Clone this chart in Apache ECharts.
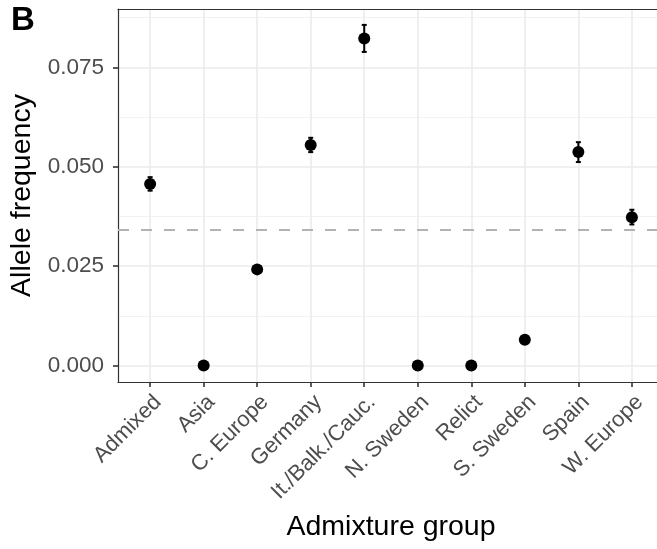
<!DOCTYPE html>
<html>
<head>
<meta charset="utf-8">
<script src="https://cdn.jsdelivr.net/npm/echarts@6/dist/echarts.min.js"></script>
<style>
  html, body { margin: 0; padding: 0; background: #fff; }
  #chart { width: 657px; height: 549px; }
</style>
</head>
<body>
<div id="chart"></div>
<script>
const groups = ['Admixed', 'Asia', 'C. Europe', 'Germany', 'It./Balk./Cauc.', 'N. Sweden', 'Relict', 'S. Sweden', 'Spain', 'W. Europe'];
const freq = [0.0457, 0, 0.0242, 0.0555, 0.0823, 0, 0, 0.0065, 0.0537, 0.0373];
const lower = [0.0440, 0, 0.0242, 0.0537, 0.0789, 0, 0, 0.0065, 0.0512, 0.0355];
const upper = [0.0474, 0, 0.0242, 0.0573, 0.0857, 0, 0, 0.0065, 0.0562, 0.0392];
const meanFreq = 0.0342;
const yTicks = [0, 0.025, 0.05, 0.075];
const yMinor = [0.0125, 0.0375, 0.0625, 0.0875];

const chart = echarts.init(document.getElementById('chart'));
const font = 'Liberation Sans, Arial, sans-serif';
const idx = groups.map((g, i) => i);
const xMin = -0.6, xMax = 9.6;
const yMin = -0.00413, yMax = 0.0897;
const border = { show: true, onZero: false, lineStyle: { color: '#333', width: 1.2 } };

const option = {
  backgroundColor: '#fff',
  animation: false,
  graphic: [{
    type: 'text', left: 11, top: 4,
    style: { text: 'B', font: 'bold 33px ' + font, fill: '#000' }
  }],
  grid: {
    left: 118, top: 9, width: 546, height: 373,
    outerBoundsMode: 'none', containLabel: false, show: false
  },
  xAxis: [{
    type: 'value', min: xMin, max: xMax, position: 'bottom',
    name: 'Admixture group', nameLocation: 'middle', nameGap: 131,
    nameTextStyle: { fontSize: 28.5, color: '#000', fontFamily: font },
    axisLine: border,
    axisTick: { show: true, length: 5, customValues: idx, lineStyle: { color: '#333', width: 1.6 } },
    axisLabel: {
      customValues: idx, rotate: 45, margin: 9, fontSize: 22, color: '#4d4d4d', fontFamily: font,
      align: 'right', verticalAlign: 'top',
      formatter: v => groups[Math.round(v)]
    },
    splitLine: { show: true, lineStyle: { color: '#ebebeb', width: 1.6 } }
  }, {
    type: 'value', min: xMin, max: xMax, position: 'top',
    axisLine: border, axisTick: { show: false }, axisLabel: { show: false }, splitLine: { show: false }
  }],
  yAxis: [{
    type: 'value', min: yMin, max: yMax, position: 'left',
    name: 'Allele frequency', nameLocation: 'middle', nameGap: 80,
    nameTextStyle: { fontSize: 28.5, color: '#000', fontFamily: font },
    axisLine: border,
    axisTick: { show: true, length: 5, customValues: yTicks, lineStyle: { color: '#333', width: 1.6 } },
    axisLabel: {
      customValues: yTicks, margin: 14, fontSize: 22.5, color: '#4d4d4d', fontFamily: font,
      formatter: v => v.toFixed(3)
    },
    splitLine: { show: true, lineStyle: { color: '#ebebeb', width: 1.6 } }
  }, {
    type: 'value', min: yMin, max: yMax, position: 'right',
    axisLine: { show: false, onZero: false }, axisLabel: { show: false },
    axisTick: { show: false, customValues: yMinor },
    splitLine: { show: true, lineStyle: { color: '#f2f2f2', width: 1 } }
  }],
  series: [{
    type: 'custom',
    z: 3,
    data: idx.map(i => [i, lower[i], upper[i]]),
    renderItem: function (params, api) {
      const lo = api.value(1), hi = api.value(2);
      if (hi - lo <= 0) return null;
      const x = api.value(0);
      const pLo = api.coord([x, lo]);
      const pHi = api.coord([x, hi]);
      const cap = 2.5;
      const st = { stroke: '#000', lineWidth: 2 };
      return {
        type: 'group',
        children: [
          { type: 'line', shape: { x1: pLo[0], y1: pLo[1], x2: pHi[0], y2: pHi[1] }, style: st },
          { type: 'line', shape: { x1: pLo[0] - cap, y1: pLo[1], x2: pLo[0] + cap, y2: pLo[1] }, style: st },
          { type: 'line', shape: { x1: pHi[0] - cap, y1: pHi[1], x2: pHi[0] + cap, y2: pHi[1] }, style: st }
        ]
      };
    }
  }, {
    type: 'scatter',
    z: 4,
    symbolSize: 12,
    itemStyle: { color: '#000', opacity: 1 },
    data: idx.map(i => [i, freq[i]]),
    markLine: {
      silent: true, symbol: 'none', label: { show: false },
      lineStyle: { color: '#b3b3b3', type: [11, 12], width: 2 },
      data: [[{ coord: [xMin, meanFreq] }, { coord: [xMax, meanFreq] }]]
    }
  }]
};

chart.setOption(option);
</script>
</body>
</html>
